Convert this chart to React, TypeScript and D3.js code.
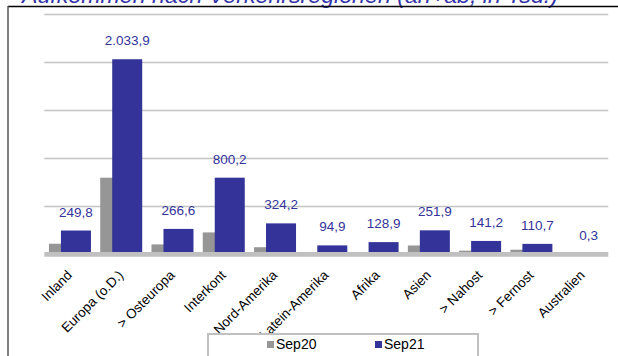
import React from "react";
import * as d3 from "d3";

const categories = ["Inland", "Europa (o.D.)", "> Osteuropa", "Interkont", "Nord-Amerika", "Latein-Amerika", "Afrika", "Asien", "> Nahost", "> Fernost", "Australien"];
const sep20 = [112, 800, 105, 230, 76, 4, 15, 94, 40, 50, 0];
const sep21 = [249.8, 2033.9, 266.6, 800.2, 324.2, 94.9, 128.9, 251.9, 141.2, 110.7, 0.3];
const yTicks = [0, 500, 1000, 1500, 2000, 2500];
const seriesNames = ["Sep20", "Sep21"];
const title = "Aufkommen nach Verkehrsregionen (an+ab, in Tsd.)";

const fmt = (v: number) => v.toLocaleString("de-DE", { minimumFractionDigits: 1, maximumFractionDigits: 1 });

export default function App() {
  const W = 618, H = 356;
  const x = d3.scaleBand<string>().domain(categories).range([44.3, 608.3]).padding(0);
  const y = d3.scaleLinear().domain([0, 2500]).range([254.5, 14.5]);
  const gray = "#969696";
  const blue = "#333399";
  const font = "Arial, 'Liberation Sans', sans-serif";
  return (
    <svg width={W} height={H} style={{ position: "absolute", left: 0, top: 0 }} fontFamily={font}>
      <rect width={W} height={H} fill="#fff" />
      <text x={22} y={3} fontSize={22} fontStyle="italic" fill="#3333aa" textLength={536} lengthAdjust="spacingAndGlyphs">{title}</text>
      <line x1={8} x2={618} y1={6.5} y2={6.5} stroke="#000" strokeWidth={1.5} />
      <line x1={8} x2={8} y1={6} y2={356} stroke="#555" strokeWidth={1.5} />
      {yTicks.slice(1).map((t) => (
        <line key={t} x1={44.3} x2={608.3} y1={y(t)} y2={y(t)} stroke="#c4c4c4" strokeWidth={1.3} />
      ))}
      {categories.map((c, i) => {
        const cx = x(c)! + x.bandwidth() / 2;
        return (
          <g key={c}>
            <rect x={cx - 21} width={30} y={y(sep20[i])} height={y(0) - y(sep20[i])} fill={gray} />
            <rect x={cx - 9} width={30} y={y(sep21[i])} height={y(0) - y(sep21[i])} fill={blue} />
            <text x={cx + 6} y={y(sep21[i]) - 14} textAnchor="middle" fontSize={13.5} fill="#33339a">{fmt(sep21[i])}</text>
            <text transform={`translate(${cx + 3},${276}) rotate(-45)`} textAnchor="end" fontSize={13.5} fill="#000">{c}</text>
          </g>
        );
      })}
      <line x1={44.3} x2={608.3} y1={254.4} y2={254.4} stroke="#c0c0c0" strokeWidth={4.8} />
      <rect x={208} y={334} width={270} height={24} fill="#fff" stroke="#c0c0c0" strokeWidth={2} />
      <rect x={267} y={341} width={7} height={7} fill={gray} />
      <text x={276} y={349} fontSize={14} fill="#000">{seriesNames[0]}</text>
      <rect x={375} y={341} width={7} height={7} fill={blue} />
      <text x={384} y={349} fontSize={14} fill="#000">{seriesNames[1]}</text>
    </svg>
  );
}
